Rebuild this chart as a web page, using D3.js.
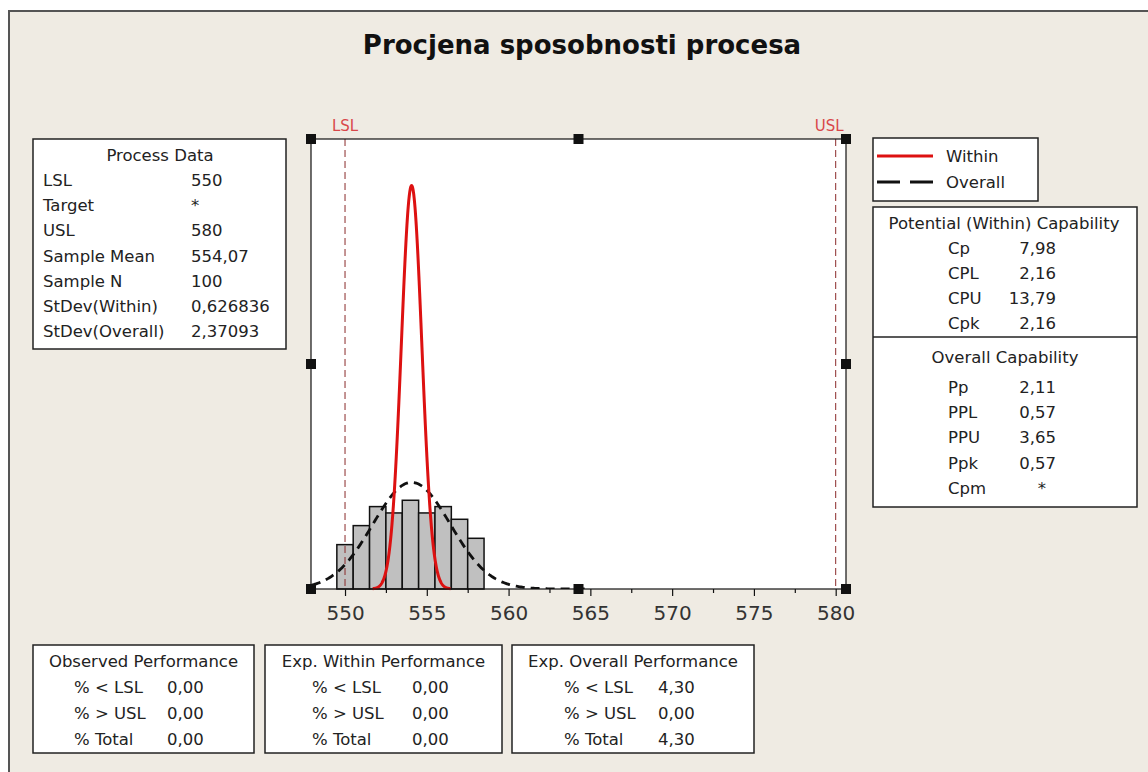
<!DOCTYPE html>
<html>
<head>
<meta charset="utf-8">
<script src="https://cdn.jsdelivr.net/npm/d3@7"></script>
<style>
  body { margin: 0; background: #fff; }
  text { font-family: "DejaVu Sans", sans-serif; fill: #222; }
</style>
</head>
<body>
<div id="chart"></div>
<script>
// histogram data (bin centres, counts)
var binMids = [550, 551, 552, 553, 554, 555, 556, 557, 558];
var binCounts = [7, 10, 13, 12, 14, 12, 13, 11, 8];

// process parameters
var LSL = 550, USL = 580;
var sampleMean = 554.07, sampleN = 100;
var sdWithin = 0.626836, sdOverall = 2.37093;

var xTicks = [550, 555, 560, 565, 570, 575, 580];
var xMinorTicks = [552.5, 557.5, 562.5, 567.5, 572.5, 577.5];

// text tables
var processLabels = ["LSL", "Target", "USL", "Sample Mean", "Sample N", "StDev(Within)", "StDev(Overall)"];
var processValues = ["550", "*", "580", "554,07", "100", "0,626836", "2,37093"];
var withinLabels = ["Cp", "CPL", "CPU", "Cpk"];
var withinValues = ["7,98", "2,16", "13,79", "2,16"];
var overallLabels = ["Pp", "PPL", "PPU", "Ppk", "Cpm"];
var overallValues = ["2,11", "0,57", "3,65", "0,57", "*"];
var perfTitles = ["Observed Performance", "Exp. Within Performance", "Exp. Overall Performance"];
var perfLabels = ["% < LSL", "% > USL", "% Total"];
var perfValues = [["0,00", "0,00", "0,00"], ["0,00", "0,00", "0,00"], ["4,30", "0,00", "4,30"]];

function init() {
    var w = 1148;
    var h = 772;
    var plot = {left: 311, right: 846, top: 139, bottom: 589};

    var svg = d3.select("#chart")
                .append("svg")
                .attr("width", w)
                .attr("height", h);

    //background panel
    svg.append("rect").attr("width", w).attr("height", h).attr("fill", "#fff");
    svg.append("rect").attr("x", 9).attr("y", 11).attr("width", w - 9).attr("height", h - 11)
        .attr("fill", "#efebe3");
    svg.append("path").attr("d", "M9," + h + "V11H" + w)
        .attr("fill", "none").attr("stroke", "#555").attr("stroke-width", 2);

    //title
    svg.append("text")
        .attr("x", 582).attr("y", 54)
        .attr("text-anchor", "middle")
        .style("font-size", "26px").style("font-weight", "bold").style("fill", "#111")
        .text("Procjena sposobnosti procesa");

    //scales
    var x = d3.scaleLinear().domain([547.92, 580.63]).range([plot.left, plot.right]);
    var y = d3.scaleLinear().domain([0, 71]).range([plot.bottom, plot.top]);

    svg.append("rect")
        .attr("x", plot.left).attr("y", plot.top)
        .attr("width", plot.right - plot.left).attr("height", plot.bottom - plot.top)
        .attr("fill", "#fff");

    var g = svg.append("g");
    svg.append("clipPath").attr("id", "plotclip")
        .append("rect")
        .attr("x", plot.left).attr("y", plot.top)
        .attr("width", plot.right - plot.left).attr("height", plot.bottom - plot.top);

    //histogram bars
    g.selectAll(".bar")
        .data(binMids)
        .enter()
        .append("rect")
        .attr("class", "bar")
        .attr("x", function(d) { return x(d - 0.5); })
        .attr("width", function(d) { return x(d + 0.5) - x(d - 0.5); })
        .attr("y", function(d, i) { return y(binCounts[i]); })
        .attr("height", function(d, i) { return y(0) - y(binCounts[i]); })
        .attr("fill", "#c0c0c0")
        .attr("stroke", "#111")
        .attr("stroke-width", 1.5);

    //spec limit lines
    [LSL, USL].forEach(function(v) {
        g.append("line")
            .attr("x1", x(v)).attr("x2", x(v))
            .attr("y1", plot.top).attr("y2", plot.bottom)
            .attr("stroke", "#8a2a2a").attr("stroke-width", 1)
            .attr("stroke-dasharray", "7,4");
    });
    svg.append("text").attr("x", x(LSL)).attr("y", 131).attr("text-anchor", "middle")
        .style("font-size", "15px").style("fill", "#d9474a").text("LSL");
    svg.append("text").attr("x", x(USL) + 8).attr("y", 131).attr("text-anchor", "end")
        .style("font-size", "15px").style("fill", "#d9474a").text("USL");

    //normal curves, scaled to counts
    function normal(mu, sd, lo, hi) {
        var pts = [];
        for (var k = 0; k <= 300; k++) {
            var xv = lo + (hi - lo) * k / 300;
            var z = (xv - mu) / sd;
            pts.push([xv, sampleN * Math.exp(-0.5 * z * z) / (sd * Math.sqrt(2 * Math.PI))]);
        }
        return pts;
    }
    var line = d3.line()
        .x(function(d) { return x(d[0]); })
        .y(function(d) { return y(d[1]); });

    g.append("path")
        .datum(normal(sampleMean, sdOverall, sampleMean - 4.5 * sdOverall, sampleMean + 4.5 * sdOverall))
        .attr("d", line)
        .attr("clip-path", "url(#plotclip)")
        .attr("fill", "none").attr("stroke", "#111").attr("stroke-width", 2.8)
        .attr("stroke-dasharray", "9,6");

    g.append("path")
        .datum(normal(sampleMean, sdWithin, sampleMean - 3.8 * sdWithin, sampleMean + 3.8 * sdWithin))
        .attr("d", line)
        .attr("fill", "none").attr("stroke", "#dd1111").attr("stroke-width", 3);

    //frame
    svg.append("rect")
        .attr("x", plot.left).attr("y", plot.top)
        .attr("width", plot.right - plot.left).attr("height", plot.bottom - plot.top)
        .attr("fill", "none").attr("stroke", "#111").attr("stroke-width", 1.2);

    //x axis
    var xAxis = svg.append("g")
        .attr("transform", "translate(0," + plot.bottom + ")")
        .call(d3.axisBottom(x).tickValues(xTicks).tickSize(7).tickPadding(10)
              .tickFormat(d3.format("d")));
    xAxis.select(".domain").remove();
    xAxis.selectAll("text").style("font-size", "20px").style("fill", "#333");
    xAxis.selectAll("line").attr("stroke", "#111").attr("stroke-width", 1.2);

    var xMinor = svg.append("g")
        .attr("transform", "translate(0," + plot.bottom + ")")
        .call(d3.axisBottom(x).tickValues(xMinorTicks).tickSize(4).tickFormat(""));
    xMinor.select(".domain").remove();
    xMinor.selectAll("line").attr("stroke", "#111").attr("stroke-width", 1.2);

    //selection handles
    var midX = (plot.left + plot.right) / 2, midY = (plot.top + plot.bottom) / 2;
    var handles = [[plot.left, plot.top], [midX, plot.top], [plot.right, plot.top],
                   [plot.left, midY], [plot.right, midY],
                   [plot.left, plot.bottom], [midX, plot.bottom], [plot.right, plot.bottom]];
    svg.selectAll(".handle")
        .data(handles)
        .enter()
        .append("rect")
        .attr("class", "handle")
        .attr("x", function(d) { return d[0] - 5; })
        .attr("y", function(d) { return d[1] - 5; })
        .attr("width", 10).attr("height", 10)
        .attr("fill", "#111");

    //---------------------------TEXT BOXES------------------------
    function box(x0, y0, bw, bh) {
        svg.append("rect").attr("x", x0).attr("y", y0).attr("width", bw).attr("height", bh)
            .attr("fill", "#fff").attr("stroke", "#222").attr("stroke-width", 1.5);
    }
    function txt(tx, ty, s, anchor) {
        svg.append("text").attr("x", tx).attr("y", ty)
            .attr("text-anchor", anchor || "start")
            .style("font-size", "16.5px")
            .text(s);
    }

    //process data
    box(33, 139, 253, 210);
    txt(160, 161, "Process Data", "middle");
    processLabels.forEach(function(s, i) {
        txt(43, 186 + i * 25.2, s);
        txt(191, 186 + i * 25.2, processValues[i]);
    });

    //legend
    box(873, 138, 165, 63);
    svg.append("line").attr("x1", 877).attr("x2", 933).attr("y1", 156).attr("y2", 156)
        .attr("stroke", "#dd1111").attr("stroke-width", 3);
    svg.append("line").attr("x1", 877).attr("x2", 933).attr("y1", 182).attr("y2", 182)
        .attr("stroke", "#111").attr("stroke-width", 3).attr("stroke-dasharray", "23,10");
    txt(946, 162, "Within");
    txt(946, 188, "Overall");

    //capability
    box(873, 207, 264, 300);
    svg.append("line").attr("x1", 873).attr("x2", 1137).attr("y1", 337).attr("y2", 337)
        .attr("stroke", "#222").attr("stroke-width", 1.5);
    txt(1004, 229, "Potential (Within) Capability", "middle");
    withinLabels.forEach(function(s, i) {
        txt(948, 254 + i * 25, s);
        txt(1056, 254 + i * 25, withinValues[i], "end");
    });
    txt(1005, 363, "Overall Capability", "middle");
    overallLabels.forEach(function(s, i) {
        var v = overallValues[i];
        txt(948, 393 + i * 25.2, s);
        txt(v === "*" ? 1046 : 1056, 393 + i * 25.2, v, "end");
    });

    //performance boxes
    var perfX = [33, 265, 512];
    var perfW = [221, 237, 242];
    var perfLab = [74, 312, 564];
    var perfVal = [167, 412, 658];
    perfTitles.forEach(function(t, b) {
        box(perfX[b], 645, perfW[b], 108);
        txt(perfX[b] + perfW[b] / 2, 667, t, "middle");
        perfLabels.forEach(function(s, i) {
            txt(perfLab[b], 693 + i * 26, s);
            txt(perfVal[b], 693 + i * 26, perfValues[b][i]);
        });
    });
}

window.onload = init;
</script>
</body>
</html>
